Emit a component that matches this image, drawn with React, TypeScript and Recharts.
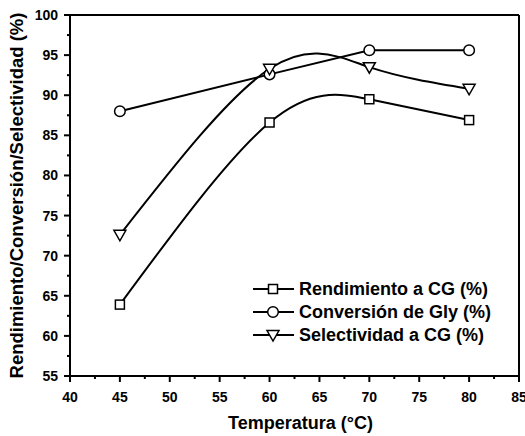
import React from 'react';
import { LineChart, Line, XAxis, YAxis, ReferenceLine, Label } from 'recharts';

document.body.style.margin = '0';

const temps = [45, 60, 70, 80];
const rendimiento = [63.9, 86.6, 89.5, 86.9];
const conversion = [88.0, 92.6, 95.6, 95.6];
const selectividad = [72.6, 93.3, 93.5, 90.8];

const xMajor = [40, 45, 50, 55, 60, 65, 70, 75, 80, 85];
const xMinor = [42.5, 47.5, 52.5, 57.5, 62.5, 67.5, 72.5, 77.5, 82.5];
const yMajor = [55, 60, 65, 70, 75, 80, 85, 90, 95, 100];
const yMinor = [57.5, 62.5, 67.5, 72.5, 77.5, 82.5, 87.5, 92.5, 97.5];

const seriesNames = ['Rendimiento a CG (%)', 'Conversión de Gly (%)', 'Selectividad a CG (%)'];

const data = temps.map((t, i) => ({
  temp: t,
  rend: rendimiento[i],
  conv: conversion[i],
  sel: selectividad[i],
}));

const FONT = '"Liberation Sans", Arial, sans-serif';

type Shape = 'square' | 'circle' | 'triangle';

function marker(shape: Shape, cx: number, cy: number, key?: string | number) {
  const common = { fill: '#fff', stroke: '#000', strokeWidth: 1.5 };
  if (shape === 'square') return <rect key={key} x={cx - 4.5} y={cy - 4.5} width={9} height={9} {...common} />;
  if (shape === 'circle') return <circle key={key} cx={cx} cy={cy} r={5.3} {...common} />;
  return <path key={key} d={`M${cx - 6},${cy - 4.5} L${cx + 6},${cy - 4.5} L${cx},${cy + 6} Z`} {...common} />;
}

const makeDot = (shape: Shape) => (props: any) => marker(shape, props.cx, props.cy, `${shape}-${props.index}`);

const XTick = (props: any) => {
  const { x, y, payload } = props;
  const axisY = y - 8;
  const major = xMajor.includes(payload.value);
  return (
    <g>
      <line x1={x} x2={x} y1={axisY} y2={axisY + (major ? 6 : 3)} stroke="#000" strokeWidth={2} />
      {major && (
        <text x={x} y={axisY + 26} textAnchor="middle" fontFamily={FONT} fontWeight="bold" fontSize={14} fill="#000">
          {payload.value}
        </text>
      )}
    </g>
  );
};

const YTick = (props: any) => {
  const { x, y, payload } = props;
  const axisX = x + 8;
  const major = yMajor.includes(payload.value);
  return (
    <g>
      <line x1={axisX} x2={axisX - (major ? 6 : 3)} y1={y} y2={y} stroke="#000" strokeWidth={2} />
      {major && (
        <text x={axisX - 12} y={y + 5} textAnchor="end" fontFamily={FONT} fontWeight="bold" fontSize={14} fill="#000">
          {payload.value}
        </text>
      )}
    </g>
  );
};

const shapes: Shape[] = ['square', 'circle', 'triangle'];

// legend drawn as an overlay so it doesn't eat plot space
const LegendBox = () => (
  <svg width={260} height={80} style={{ position: 'absolute', left: 250, top: 276 }}>
    {seriesNames.map((name, i) => {
      const cy = 13 + i * 23;
      return (
        <g key={name}>
          <line x1={3} x2={44} y1={cy} y2={cy} stroke="#000" strokeWidth={2} />
          {marker(shapes[i], 23, cy)}
          <text x={49} y={cy + 6} fontFamily={FONT} fontWeight="bold" fontSize={18} fill="#000">
            {name}
          </text>
        </g>
      );
    })}
  </svg>
);

export default function App() {
  return (
    <div style={{ width: 525, height: 436, background: '#fff', position: 'relative' }}>
      <LineChart width={525} height={436} data={data} margin={{ top: 15, right: 6, left: 0, bottom: 0 }}>
        <XAxis
          dataKey="temp"
          type="number"
          domain={[40, 85]}
          ticks={[...xMajor, ...xMinor]}
          interval={0}
          height={60}
          tickSize={6}
          tickMargin={2}
          tickLine={false}
          tick={<XTick />}
          axisLine={{ stroke: '#000', strokeWidth: 2 }}
        >
          <Label
            value="Temperatura (°C)"
            position="insideBottom"
            offset={7}
            dx={6}
            style={{ fontFamily: FONT, fontWeight: 'bold', fontSize: 18, fill: '#000' }}
          />
        </XAxis>
        <YAxis
          type="number"
          domain={[55, 100]}
          ticks={[...yMajor, ...yMinor]}
          interval={0}
          width={70}
          tickSize={6}
          tickMargin={2}
          tickLine={false}
          tick={<YTick />}
          axisLine={{ stroke: '#000', strokeWidth: 2 }}
        >
          <Label
            value="Rendimiento/Conversión/Selectividad (%)"
            angle={-90}
            position="insideLeft"
            offset={16}
            style={{ textAnchor: 'middle', fontFamily: FONT, fontWeight: 'bold', fontSize: 18.5, fill: '#000' }}
          />
        </YAxis>
        <ReferenceLine y={100} stroke="#000" strokeWidth={2} />
        <ReferenceLine x={85} stroke="#000" strokeWidth={2} />
        <Line
          dataKey="rend"
          type="natural"
          stroke="#000"
          strokeWidth={2}
          dot={makeDot('square')}
          activeDot={false}
          isAnimationActive={false}
        />
        <Line
          dataKey="conv"
          type="linear"
          stroke="#000"
          strokeWidth={2}
          dot={makeDot('circle')}
          activeDot={false}
          isAnimationActive={false}
        />
        <Line
          dataKey="sel"
          type="natural"
          stroke="#000"
          strokeWidth={2}
          dot={makeDot('triangle')}
          activeDot={false}
          isAnimationActive={false}
        />
      </LineChart>
      <LegendBox />
    </div>
  );
}
